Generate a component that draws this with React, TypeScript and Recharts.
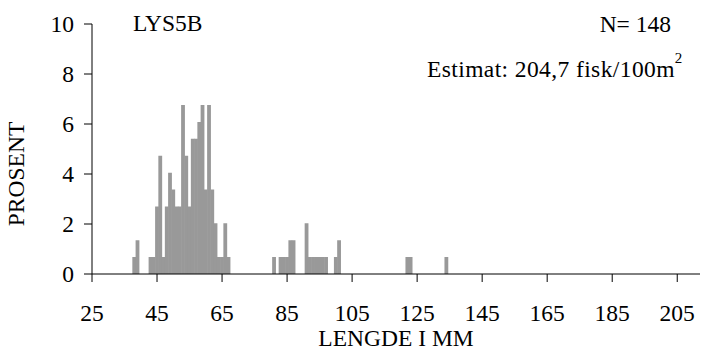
import React from 'react';
import { BarChart, Bar, XAxis, YAxis, Label } from 'recharts';

// length classes (mm) that hold fish, and their share of the catch (%)
const lengthMm = [
  38, 39, 43, 44, 45, 46, 47, 48, 49, 50, 51, 52, 53, 54, 55, 56, 57, 58, 59, 60,
  61, 62, 63, 64, 65, 66, 67, 81, 83, 84, 85, 86, 87, 91, 92, 93, 94, 95, 96, 97,
  100, 101, 122, 123, 134,
];
const percent = [
  0.68, 1.35, 0.68, 0.68, 2.7, 4.73, 0.68, 2.7, 4.05, 3.38, 2.7, 2.7, 6.76, 4.73, 2.7, 5.41, 5.41, 6.08, 6.76, 3.38,
  6.76, 3.38, 2.03, 0.68, 0.68, 2.03, 0.68, 0.68, 0.68, 0.68, 0.68, 1.35, 1.35, 2.03, 0.68, 0.68, 0.68, 0.68, 0.68, 0.68,
  0.68, 1.35, 0.68, 0.68, 0.68,
];

const xTicks = [25, 45, 65, 85, 105, 125, 145, 165, 185, 205];
const yTicks = [0, 2, 4, 6, 8, 10];
const xMin = 25;
const xMax = 212;

// one row per mm so every class gets the same bar width
const rows: { len: number; pct: number }[] = [];
for (let m = xMin; m <= xMax; m++) {
  const i = lengthMm.indexOf(m);
  rows.push({ len: m, pct: i >= 0 ? percent[i] : 0 });
}

const FONT = "'Liberation Serif', Tinos, 'Times New Roman', 'DejaVu Serif', serif";
const FS = 23.5;
const tickStyle = { fontSize: FS, fill: '#000', fontFamily: FONT };

// bars touch each other like in the original histogram
const FlushBar = (p: any) => {
  if (!p.height) return null;
  return <rect x={p.x - 0.3} y={p.y} width={p.width + 0.6} height={p.height} fill="#999999" />;
};

export default function App() {
  return (
    <div style={{ position: 'relative', width: 706, height: 350, fontFamily: FONT }}>
      <style>{'body{margin:0}'}</style>
      <BarChart
        width={706}
        height={350}
        data={rows}
        margin={{ top: 24, right: 6, bottom: 4, left: 0 }}
        barCategoryGap={0}
        barGap={0}
        style={{ fontFamily: FONT }}
      >
        <XAxis
          dataKey="len"
          type="number"
          domain={[xMin, xMax]}
          ticks={xTicks}
          interval={0}
          allowDataOverflow
          height={72}
          tickSize={8}
          tickMargin={22}
          stroke="#000"
          tick={tickStyle}
        >
          <Label
            value="LENGDE I MM"
            position="insideBottom"
            offset={0}
            style={{ fontSize: FS, fill: '#000', fontFamily: FONT }}
          />
        </XAxis>
        <YAxis
          type="number"
          domain={[0, 10]}
          ticks={yTicks}
          interval={0}
          width={92}
          tickSize={8}
          tickMargin={10}
          stroke="#000"
          tick={tickStyle}
        />
        <Bar dataKey="pct" fill="#999999" barSize={3.2} shape={FlushBar} isAnimationActive={false} />
      </BarChart>
      <svg
        width={706}
        height={350}
        style={{ position: 'absolute', left: 0, top: 0, pointerEvents: 'none', fontFamily: FONT }}
      >
        <text
          transform="translate(24,174) rotate(-90)"
          textAnchor="middle"
          fontSize={FS}
          fill="#000"
        >
          PROSENT
        </text>
        <text x={133} y={31} fontSize={FS} fill="#000">
          LYS5B
        </text>
        <text x={671} y={31.5} textAnchor="end" fontSize={FS} fill="#000">
          N= 148
        </text>
        <text x={427} y={77} fontSize={FS} letterSpacing={0.4} fill="#000">
          Estimat: 204,7 fisk/100m
          <tspan dy={-14} fontSize={15} letterSpacing={0}>2</tspan>
        </text>
      </svg>
    </div>
  );
}
